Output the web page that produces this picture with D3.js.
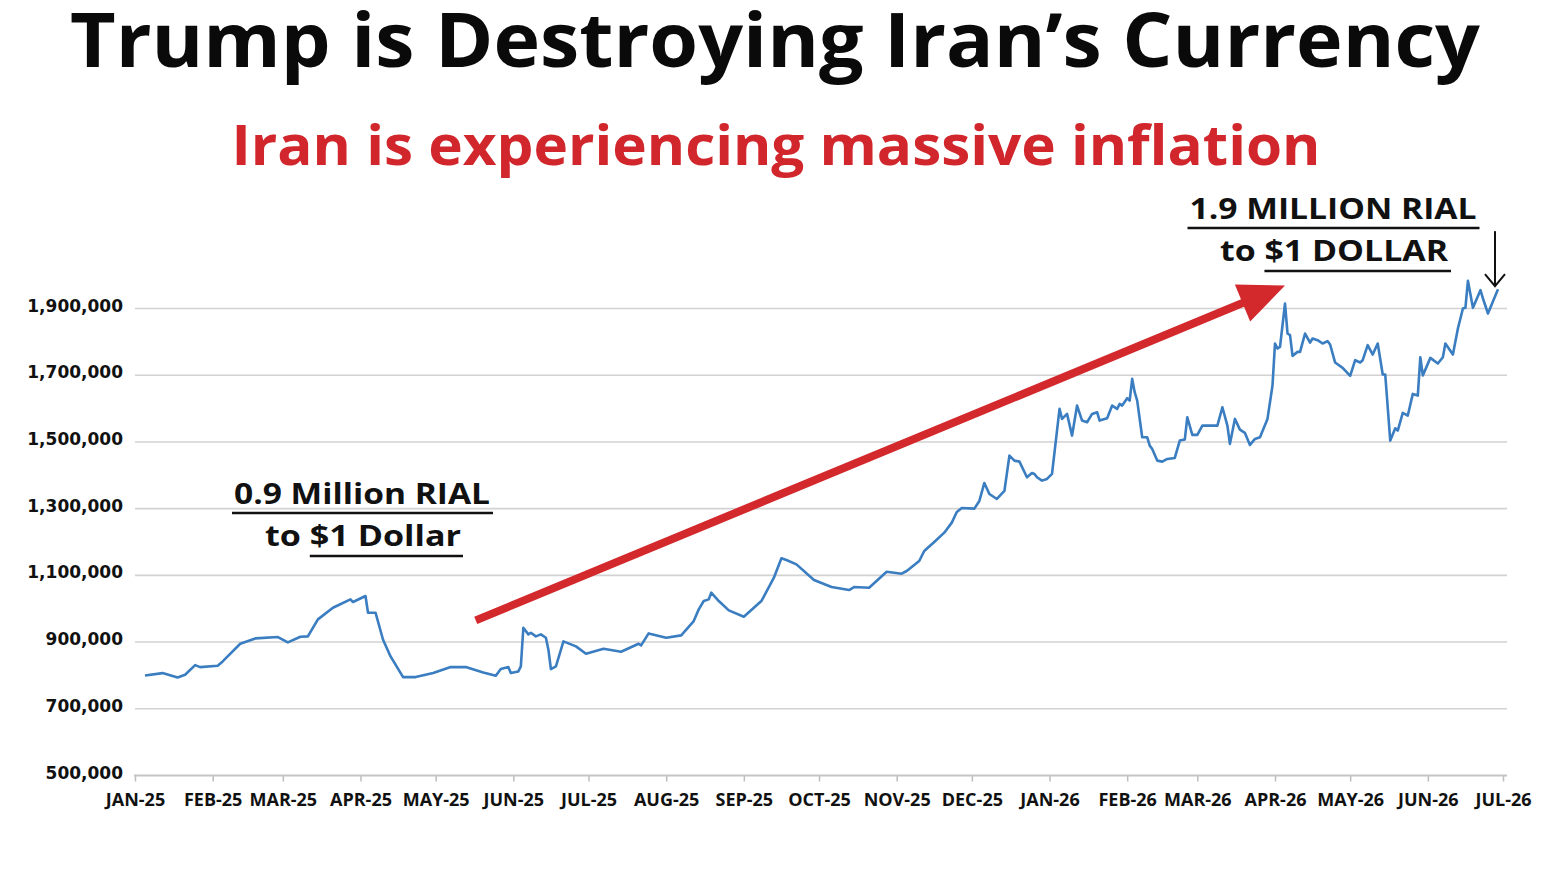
<!DOCTYPE html>
<html>
<head>
<meta charset="utf-8">
<script src="https://cdn.jsdelivr.net/npm/d3@7"></script>
<style>
  body { margin: 0; background: #fff; }
  svg { display: block; }
</style>
</head>
<body>
<script>
// daily rial per dollar readings
const dates = [
  "2025-01-05","2025-01-12","2025-01-18","2025-01-21","2025-01-25","2025-01-27","2025-02-03","2025-02-05",
  "2025-02-12","2025-02-18","2025-02-27","2025-02-28","2025-03-03","2025-03-08","2025-03-11","2025-03-15",
  "2025-03-21","2025-03-28","2025-03-29","2025-04-03","2025-04-04","2025-04-07","2025-04-10","2025-04-13",
  "2025-04-18","2025-04-23","2025-04-30","2025-05-07","2025-05-13","2025-05-20","2025-05-25","2025-05-27",
  "2025-05-30","2025-05-31","2025-06-01","2025-06-03","2025-06-04","2025-06-05","2025-06-07","2025-06-08",
  "2025-06-10","2025-06-12","2025-06-14","2025-06-15","2025-06-16","2025-06-18","2025-06-21","2025-06-26",
  "2025-06-30","2025-07-07","2025-07-14","2025-07-21","2025-07-22","2025-07-25","2025-08-01","2025-08-07",
  "2025-08-12","2025-08-14","2025-08-16","2025-08-18","2025-08-19","2025-08-22","2025-08-26","2025-09-01",
  "2025-09-08","2025-09-13","2025-09-16","2025-09-18","2025-09-22","2025-09-29","2025-10-06","2025-10-13",
  "2025-10-15","2025-10-21","2025-10-28","2025-11-03","2025-11-05","2025-11-10","2025-11-12","2025-11-16",
  "2025-11-20","2025-11-23","2025-11-25","2025-11-27","2025-12-02","2025-12-04","2025-12-06","2025-12-08",
  "2025-12-11","2025-12-14","2025-12-16","2025-12-18","2025-12-20","2025-12-23","2025-12-25","2025-12-26",
  "2025-12-27","2025-12-29","2025-12-31","2026-01-02","2026-01-05","2026-01-06","2026-01-08","2026-01-10",
  "2026-01-12","2026-01-14","2026-01-16","2026-01-18","2026-01-20","2026-01-21","2026-01-24","2026-01-26",
  "2026-01-28","2026-01-29","2026-01-30","2026-02-01","2026-02-02","2026-02-03","2026-02-04","2026-02-05",
  "2026-02-07","2026-02-09","2026-02-10","2026-02-11","2026-02-13","2026-02-15","2026-02-17","2026-02-20",
  "2026-02-22","2026-02-24","2026-02-25","2026-02-27","2026-03-01","2026-03-03","2026-03-09","2026-03-11",
  "2026-03-13","2026-03-14","2026-03-16","2026-03-18","2026-03-20","2026-03-22","2026-03-24","2026-03-26",
  "2026-03-29","2026-03-31","2026-04-01","2026-04-02","2026-04-03","2026-04-05","2026-04-06","2026-04-07",
  "2026-04-08","2026-04-10","2026-04-11","2026-04-13","2026-04-15","2026-04-16","2026-04-18","2026-04-20",
  "2026-04-22","2026-04-23","2026-04-25","2026-04-28","2026-05-01","2026-05-03","2026-05-05","2026-05-06",
  "2026-05-08","2026-05-10","2026-05-12","2026-05-14","2026-05-15","2026-05-17","2026-05-19","2026-05-20",
  "2026-05-22","2026-05-24","2026-05-26","2026-05-28","2026-05-29","2026-05-30","2026-06-02","2026-06-05",
  "2026-06-07","2026-06-08","2026-06-11","2026-06-13","2026-06-15","2026-06-16","2026-06-17","2026-06-19",
  "2026-06-22","2026-06-23","2026-06-25","2026-06-29"
];
const rials = [
  800000, 807000, 794000, 802000, 831000, 825000, 829000, 842000,
  895000, 911000, 915000, 911000, 899000, 916000, 917000, 968000,
  1003000, 1028000, 1020000, 1038000, 988000, 988000, 907000, 857000,
  795000, 795000, 807000, 825000, 825000, 809000, 799000, 819000,
  825000, 807000, 809000, 812000, 827000, 943000, 923000, 928000,
  917000, 923000, 913000, 877000, 819000, 827000, 902000, 887000,
  865000, 880000, 871000, 895000, 890000, 926000, 913000, 920000,
  963000, 998000, 1023000, 1028000, 1048000, 1023000, 995000, 976000,
  1023000, 1093000, 1151000, 1146000, 1133000, 1086000, 1065000, 1056000,
  1065000, 1063000, 1111000, 1105000, 1113000, 1143000, 1173000, 1200000,
  1228000, 1258000, 1290000, 1302000, 1300000, 1323000, 1377000, 1344000,
  1329000, 1353000, 1459000, 1444000, 1441000, 1394000, 1407000, 1404000,
  1394000, 1384000, 1389000, 1404000, 1599000, 1569000, 1584000, 1519000,
  1609000, 1564000, 1559000, 1584000, 1589000, 1564000, 1571000, 1609000,
  1599000, 1614000, 1609000, 1631000, 1624000, 1689000, 1649000, 1624000,
  1514000, 1514000, 1489000, 1479000, 1444000, 1441000, 1449000, 1452000,
  1504000, 1507000, 1574000, 1521000, 1521000, 1549000, 1549000, 1604000,
  1549000, 1494000, 1569000, 1537000, 1527000, 1491000, 1509000, 1514000,
  1569000, 1669000, 1795000, 1780000, 1785000, 1915000, 1825000, 1820000,
  1758000, 1770000, 1770000, 1825000, 1798000, 1810000, 1805000, 1795000,
  1802000, 1792000, 1738000, 1722000, 1698000, 1745000, 1738000, 1745000,
  1790000, 1762000, 1795000, 1702000, 1702000, 1504000, 1541000, 1534000,
  1587000, 1579000, 1644000, 1639000, 1754000, 1699000, 1752000, 1735000,
  1754000, 1795000, 1762000, 1840000, 1900000, 1902000, 1983000, 1902000,
  1955000, 1930000, 1885000, 1958000
];
const yTicks = [500000, 700000, 900000, 1100000, 1300000, 1500000, 1700000, 1900000];
const xStart = "2025-01-01";
const xEnd = "2026-07-01";

// red trend arrow, in data terms
const arrowFrom = ["2025-05-17", 965000];
const arrowTo = ["2026-04-05", 1969000];

const titleText = "Trump is Destroying Iran\u2019s Currency";
const subtitleText = "Iran is experiencing massive inflation";
const noteLeft = ["0.9 Million RIAL", "to $1 Dollar"];
const noteRight = ["1.9 MILLION RIAL", "to $1 DOLLAR"];

const parse = d3.timeParse("%Y-%m-%d");
const data = dates.map((d, i) => ({ date: parse(d), v: rials[i] }));

const W = 1562, H = 878;
const svg = d3.select("body").append("svg")
  .attr("width", W)
  .attr("height", H)
  .style("background", "#fff");

const x = d3.scaleTime()
  .domain([parse(xStart), parse(xEnd)])
  .range([135, 1503]);

const y = d3.scaleLinear()
  .domain([500000, 1900000])
  .range([775.5, 308.5]);

const gridRight = 1507;
const fmt = d3.format(",");

// gridlines
svg.append("g")
  .selectAll("line")
  .data(yTicks.slice(1))
  .enter()
  .append("line")
  .attr("x1", x.range()[0])
  .attr("x2", gridRight)
  .attr("y1", d => y(d))
  .attr("y2", d => y(d))
  .attr("stroke", "#d2d2d2")
  .attr("stroke-width", 1.6);

// y labels
svg.append("g")
  .selectAll("text")
  .data(yTicks)
  .enter()
  .append("text")
  .attr("x", 123)
  .attr("y", d => y(d) + 3)
  .attr("text-anchor", "end")
  .style("font-family", "'DejaVu Sans', Verdana, sans-serif")
  .style("font-weight", "bold")
  .style("font-size", "17px")
  .style("fill", "#111")
  .text(d => fmt(d));

// x axis
const xAxis = d3.axisBottom(x)
  .ticks(d3.timeMonth.every(1))
  .tickSize(6)
  .tickPadding(12)
  .tickFormat(d => d3.timeFormat("%b-%y")(d).toUpperCase());

const gX = svg.append("g")
  .attr("transform", "translate(0," + y(500000) + ")")
  .call(xAxis);
gX.select(".domain").remove();
gX.selectAll(".tick line").attr("stroke", "#bdbdbd").attr("stroke-width", 1.5);
gX.selectAll("text")
  .style("font-family", "'Open Sans', sans-serif")
  .style("font-weight", "bold")
  .style("font-size", "18px")
  .style("fill", "#111");
gX.append("line")
  .attr("x1", x.range()[0] - 1)
  .attr("x2", gridRight)
  .attr("stroke", "#c4c4c4")
  .attr("stroke-width", 2);

// the series
const line = d3.line()
  .x(d => x(d.date))
  .y(d => y(d.v));

svg.append("path")
  .datum(data)
  .attr("d", line)
  .attr("fill", "none")
  .attr("stroke", "#3a7dc0")
  .attr("stroke-width", 2.6)
  .attr("stroke-linejoin", "round");

// red arrow
const ax0 = x(parse(arrowFrom[0])), ay0 = y(arrowFrom[1]);
const ax1 = x(parse(arrowTo[0])), ay1 = y(arrowTo[1]);
const ang = Math.atan2(ay1 - ay0, ax1 - ax0);
const headLen = 46, headHalf = 20;
const bx = ax1 - headLen * Math.cos(ang), by = ay1 - headLen * Math.sin(ang);
svg.append("line")
  .attr("x1", ax0).attr("y1", ay0)
  .attr("x2", bx + 4 * Math.cos(ang)).attr("y2", by + 4 * Math.sin(ang))
  .attr("stroke", "#d3282c")
  .attr("stroke-width", 8);
svg.append("polygon")
  .attr("points", [
    [ax1, ay1],
    [bx - headHalf * Math.sin(ang), by + headHalf * Math.cos(ang)],
    [bx + headHalf * Math.sin(ang), by - headHalf * Math.cos(ang)]
  ].map(p => p.join(",")).join(" "))
  .attr("fill", "#d3282c");

// small black arrow to the last reading
const last = data[data.length - 1];
const kx = x(last.date) - 3, kTip = y(last.v) - 3;
svg.append("line")
  .attr("x1", kx).attr("x2", kx)
  .attr("y1", kTip - 55).attr("y2", kTip)
  .attr("stroke", "#111").attr("stroke-width", 2);
svg.append("path")
  .attr("d", `M${kx - 10},${kTip - 12}L${kx},${kTip}L${kx + 10},${kTip - 12}`)
  .attr("fill", "none")
  .attr("stroke", "#111").attr("stroke-width", 2);

// titles
function fitText(txt, cx, by, size, len, color) {
  return svg.append("text")
    .attr("x", cx)
    .attr("y", by)
    .attr("text-anchor", "middle")
    .attr("textLength", len)
    .attr("lengthAdjust", "spacingAndGlyphs")
    .style("font-family", "'Open Sans', sans-serif")
    .style("font-weight", "bold")
    .style("font-size", size + "px")
    .style("fill", color)
    .text(txt);
}

fitText(titleText, 775, 67, 76, 1410, "#0a0a0a");
fitText(subtitleText, 776, 165, 56, 1089, "#d1262c");

// annotation blocks
function note(lines, cx, top, len1, len2) {
  fitText(lines[0], cx, top, 29, len1, "#111");
  svg.append("line")
    .attr("x1", cx - len1 / 2 - 2).attr("x2", cx + len1 / 2 + 3)
    .attr("y1", top + 9).attr("y2", top + 9)
    .attr("stroke", "#111").attr("stroke-width", 2.5);
  const t2 = fitText(lines[1], cx + 1, top + 42, 29, len2, "#111");
  const n = t2.node();
  const sx = n.getStartPositionOfChar(3).x;
  const bb = n.getBBox();
  svg.append("line")
    .attr("x1", sx).attr("x2", bb.x + bb.width + 2)
    .attr("y1", top + 52).attr("y2", top + 52)
    .attr("stroke", "#111").attr("stroke-width", 2.5);
}

note(noteLeft, 362, 504, 256, 196);
note(noteRight, 1333, 219, 287, 228);
</script>
</body>
</html>
